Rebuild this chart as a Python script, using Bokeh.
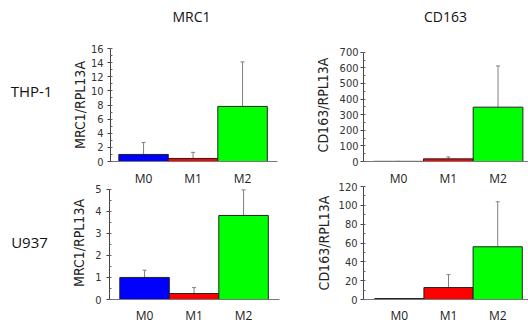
from bokeh.plotting import figure
from bokeh.layouts import column, row
from bokeh.models import (Range1d, ColumnDataSource, SingleIntervalTicker, FixedTicker,
                          Whisker, TeeHead, Label)
from bokeh.embed import file_html
from bokeh.resources import INLINE

# ---- data ----
categories = ["M0", "M1", "M2"]
bar_colors = ["#0000FF", "#FF0000", "#00FF00"]

thp1_mrc1 = [1.0, 0.43, 7.8]
thp1_mrc1_err = [1.7, 0.87, 6.3]
thp1_cd163 = [1.0, 17.0, 348.0]
thp1_cd163_err = [0.0, 12.0, 264.0]
u937_mrc1 = [1.0, 0.27, 3.81]
u937_mrc1_err = [0.33, 0.27, 1.16]
u937_cd163 = [1.0, 12.7, 56.0]
u937_cd163_err = [0.0, 13.7, 47.8]

gene_titles = ["MRC1", "CD163"]
cell_lines = ["THP-1", "U937"]
y_labels = ["MRC1/RPL13A", "CD163/RPL13A"]

NARROW = "DejaVu Sans Condensed"
HUMAN = "Open Sans"
XS = list(range(len(categories)))
CAT_LABELS = {i: c for i, c in enumerate(categories)}


def panel(vals, errs, ymax, yend, yint, ylabel, width, height, xr, borders,
          tick_standoff, label_standoff, cat_standoff):
    mbl, mbr, mbt, mbb = borders
    p = figure(width=width, height=height, output_backend="svg", toolbar_location=None,
               x_range=Range1d(*xr), y_range=Range1d(0, yend),
               min_border_left=mbl, min_border_right=mbr,
               min_border_top=mbt, min_border_bottom=mbb)
    p.background_fill_color = None
    p.border_fill_color = None
    p.outline_line_color = None
    p.xgrid.visible = False
    p.ygrid.visible = False
    src = ColumnDataSource(dict(x=XS, top=vals, upper=[v + e for v, e in zip(vals, errs)],
                                color=bar_colors))
    p.add_layout(Whisker(base="x", lower="top", upper="upper", source=src,
                         line_color="#808080", line_width=1,
                         upper_head=TeeHead(size=4, line_color="#808080"),
                         lower_head=None))
    p.vbar(x="x", top="top", bottom=0, width=1.0, fill_color="color",
           line_color="#222222", line_width=1, source=src)
    # x axis (baseline + category labels)
    xa = p.xaxis[0]
    xa.axis_line_color = "#777777"
    xa.ticker = FixedTicker(ticks=XS)
    xa.major_label_overrides = CAT_LABELS
    xa.major_tick_out = 0
    xa.major_tick_in = 0
    xa.minor_tick_out = 0
    xa.minor_tick_in = 0
    xa.major_tick_line_color = None
    xa.minor_tick_line_color = None
    xa.major_label_text_font = HUMAN
    xa.major_label_text_font_size = "12px"
    xa.major_label_text_color = "#222222"
    xa.major_label_standoff = cat_standoff
    # y axis
    ya = p.yaxis[0]
    ya.bounds = (0, ymax)
    ya.ticker = SingleIntervalTicker(interval=yint, num_minor_ticks=2)
    ya.axis_line_color = "#444444"
    ya.major_tick_line_color = "#444444"
    ya.major_tick_out = 3
    ya.major_tick_in = 0
    ya.minor_tick_line_color = "#666666"
    ya.minor_tick_out = 0
    ya.minor_tick_in = 2
    ya.major_label_text_font = NARROW
    ya.major_label_text_font_size = "11px"
    ya.major_label_text_color = "#333333"
    ya.major_label_standoff = tick_standoff
    ya.axis_label = ylabel
    ya.axis_label_text_font = NARROW
    ya.axis_label_text_font_size = "14px"
    ya.axis_label_text_font_style = "normal"
    ya.axis_label_text_color = "#222222"
    ya.axis_label_standoff = label_standoff
    return p


HEAD_H = 30
TOP_H = 162
BOT_H = 159
OVERLAP = 24
SIDE_W = 60
LEFT_W = 225
RIGHT_W = 243

tl = panel(thp1_mrc1, thp1_mrc1_err, 16, 16, 2, y_labels[0], LEFT_W, TOP_H,
           (-0.668, 2.706), (50, 8, 18, 31), 4, 0, 8)
tr = panel(thp1_cd163, thp1_cd163_err, 700, 723.7, 100, y_labels[1], RIGHT_W, TOP_H,
           (-0.707, 2.613), (78, 0, 18, 31), 2, 6, 8)
bl = panel(u937_mrc1, u937_mrc1_err, 5, 5.122, 1, y_labels[0], LEFT_W, BOT_H,
           (-0.708, 2.726), (49, 6, 18, 28), 5, 5, 7)
br = panel(u937_cd163, u937_cd163_err, 120, 120, 20, y_labels[1], RIGHT_W, BOT_H,
           (-0.728, 2.626), (78, 0, 18, 28), 3, 4, 7)


def text_fig(width, height):
    f = figure(width=width, height=height, output_backend="svg", toolbar_location=None,
               x_range=Range1d(0, width), y_range=Range1d(height, 0),
               min_border=0)
    f.axis.visible = False
    f.grid.visible = False
    f.outline_line_color = None
    f.background_fill_color = None
    f.border_fill_color = None
    return f


header = text_fig(SIDE_W + LEFT_W + RIGHT_W, HEAD_H)
for t, xc in zip(gene_titles, [191, 445]):
    header.add_layout(Label(x=xc, y=16, text=t, text_align="center", text_baseline="middle",
                            text_font=HUMAN, text_font_size="14px", text_color="#111111"))

side = text_fig(SIDE_W, TOP_H + BOT_H - OVERLAP)
for t, xc, yc in zip(cell_lines, [31, 29], [90 - HEAD_H, 241 - HEAD_H]):
    side.add_layout(Label(x=xc, y=yc, text=t, text_align="center", text_baseline="middle",
                          text_font=HUMAN, text_font_size="15px", text_color="#111111"))

top_row = row(tl, tr, spacing=0)
bottom_row = row(bl, br, spacing=0, margin=(-OVERLAP, 0, 0, 0))
grid = column(top_row, bottom_row, spacing=0)
p = column(header, row(side, grid, spacing=0), spacing=0)

open("out.html", "w").write(file_html(p, INLINE))
